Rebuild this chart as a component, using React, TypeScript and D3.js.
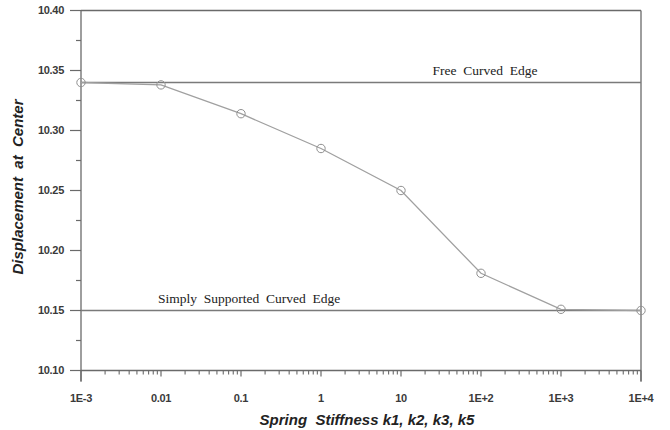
import React from "react";
import * as d3 from "d3";

const stiffness = [1e-3, 1e-2, 1e-1, 1, 10, 100, 1000, 10000];
const displacement = [10.34, 10.338, 10.314, 10.285, 10.25, 10.181, 10.151, 10.15];
const xTickValues = [1e-3, 1e-2, 1e-1, 1, 10, 100, 1000, 10000];
const xTickLabels = ["1E-3", "0.01", "0.1", "1", "10", "1E+2", "1E+3", "1E+4"];
const yTickValues = [10.1, 10.15, 10.2, 10.25, 10.3, 10.35, 10.4];
const refValues = [10.34, 10.15];
const refLabels = ["Free  Curved  Edge", "Simply  Supported  Curved  Edge"];
const refLabelAt = [112, 0.126];

export default function App() {
  const left = 81, right = 641, top = 10.5, bottom = 370.5;
  const x = d3.scaleLog().domain([1e-3, 1e4]).range([left, right]);
  const y = d3.scaleLinear().domain([10.1, 10.4]).range([bottom, top]);

  const minorX: number[] = [];
  for (let e = -3; e < 4; e++) {
    for (let m = 2; m <= 9; m++) minorX.push(m * Math.pow(10, e));
  }
  const minorY = d3.range(0, 6).map((i) => 10.125 + i * 0.05);

  const line = d3
    .line<number>()
    .x((_, i) => x(stiffness[i]))
    .y((d) => y(d));

  const axisColor = "#6a6a6a";
  const font = "Arial, 'Liberation Sans', sans-serif";

  return (
    <svg width={670} height={430} style={{ position: "absolute", left: 0, top: 0 }}>
      <rect width={670} height={430} fill="#fff" />
      {/* frame */}
      <line x1={left} x2={right} y1={top} y2={top} stroke={axisColor} strokeWidth={1.3} />
      <line x1={right} x2={right} y1={top} y2={bottom + 11} stroke={axisColor} strokeWidth={1.3} />
      <line x1={left} x2={left} y1={top} y2={bottom + 11} stroke={axisColor} strokeWidth={1.3} />
      <line x1={left} x2={right} y1={bottom} y2={bottom} stroke={axisColor} strokeWidth={1.3} />

      {/* y ticks */}
      {yTickValues.map((v) => (
        <g key={"yt" + v}>
          <line x1={left - 11} x2={left} y1={y(v)} y2={y(v)} stroke={axisColor} strokeWidth={1.2} />
          <text x={64} y={y(v)} dy="0.35em" textAnchor="end" fontFamily={font} fontSize={11} fill="#3a3a3a" fontWeight={600} letterSpacing={-0.3}>
            {v.toFixed(2)}
          </text>
        </g>
      ))}
      {minorY.map((v) => (
        <line key={"ym" + v} x1={left - 5} x2={left} y1={y(v)} y2={y(v)} stroke={axisColor} strokeWidth={1.2} />
      ))}

      {/* x ticks */}
      {minorX.map((v) => (
        <line key={"xm" + v} x1={x(v)} x2={x(v)} y1={bottom} y2={bottom + 4} stroke={axisColor} strokeWidth={1.1} />
      ))}
      {xTickValues.map((v, i) => (
        <g key={"xt" + v}>
          <line x1={x(v)} x2={x(v)} y1={bottom} y2={bottom + (i === 0 || i === xTickValues.length - 1 ? 11 : 6)} stroke={axisColor} strokeWidth={1.2} />
          <text x={x(v)} y={bottom + 31} textAnchor="middle" fontFamily={font} fontSize={11} fill="#3a3a3a" fontWeight={600} letterSpacing={-0.3}>
            {xTickLabels[i]}
          </text>
        </g>
      ))}

      {/* reference lines */}
      {refValues.map((v, i) => (
        <g key={"ref" + i}>
          <line x1={left} x2={right} y1={y(v)} y2={y(v)} stroke="#7a7a7a" strokeWidth={1.4} />
          <text
            x={x(refLabelAt[i])}
            y={y(v) - 7.5}
            textAnchor="middle"
            fontFamily="'Liberation Serif', 'Times New Roman', serif"
            fontSize={13.5}
            fill="#222"
            style={{ whiteSpace: "pre" }}
          >
            {refLabels[i]}
          </text>
        </g>
      ))}

      {/* data */}
      <path d={line(displacement) ?? ""} fill="none" stroke="#a0a0a0" strokeWidth={1.3} />
      {displacement.map((d, i) => (
        <circle key={"p" + i} cx={x(stiffness[i])} cy={y(d)} r={4.2} fill="none" stroke="#909090" strokeWidth={1} />
      ))}

      {/* axis titles */}
      <text
        x={367}
        y={425}
        textAnchor="middle"
        fontFamily={font}
        fontSize={15}
        fontWeight="bold"
        fontStyle="italic"
        fill="#222"
        style={{ whiteSpace: "pre" }}
      >
        {"Spring  Stiffness k1, k2, k3, k5"}
      </text>
      <text
        transform={`translate(23, 187) rotate(-90)`}
        textAnchor="middle"
        fontFamily={font}
        fontSize={15}
        fontWeight="bold"
        fontStyle="italic"
        fill="#222"
        style={{ whiteSpace: "pre" }}
      >
        {"Displacement  at  Center"}
      </text>
    </svg>
  );
}
